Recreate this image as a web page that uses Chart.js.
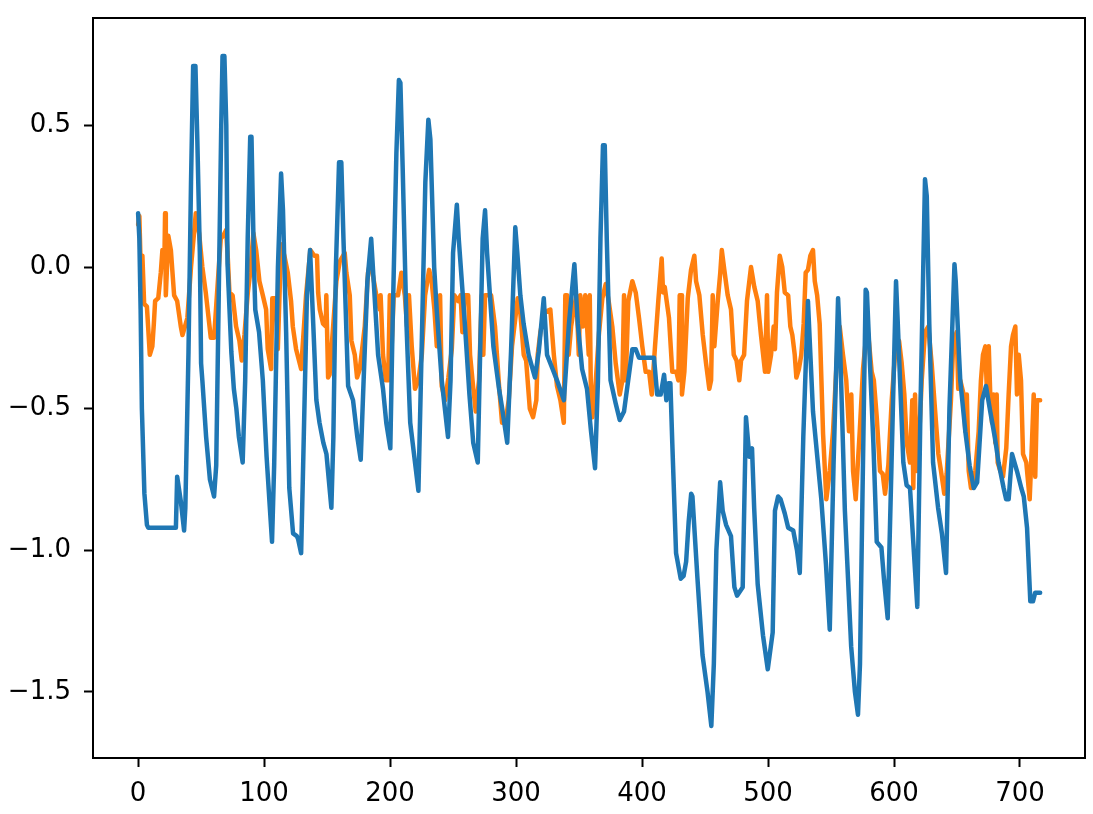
<!DOCTYPE html>
<html lang="en">
<head>
    <meta charset="UTF-8">
    <title>Line chart</title>
    <script src="https://cdn.jsdelivr.net/npm/chart.js"></script>
    <style>
        html, body { margin: 0; padding: 0; background: #fff; }
        canvas { display: block; }
    </style>
</head>
<body>
    <canvas id="lineChart" width="1093" height="814"></canvas>
    <script>
        // tengely beosztások
        const xTicks = [0, 100, 200, 300, 400, 500, 600, 700];
        const yTicks = [-1.5, -1.0, -0.5, 0.0, 0.5];

        // kék sor (csúcsok és völgyek)
        const blueX = [0, 1, 2, 3, 5, 7, 8, 30, 31, 34, 36.5, 37.5, 40, 42, 43.7, 45.5, 47, 49, 50, 51, 54, 57, 60.3, 62, 64, 66, 67, 68.5, 70,
            71, 74, 76, 78, 80, 83, 85, 87, 89, 90, 92, 93, 96, 99, 102, 106.3, 108, 111, 113.5, 115, 117.5, 120, 123, 126, 127, 129.4, 131, 134, 136.5,
            139, 141.5, 144, 147, 149.5, 153.4, 155, 157, 159.5, 161.3, 163, 166.7, 170.6, 174, 176.7, 179, 182, 185, 187, 190.5, 194.4, 197, 200.2,
            202, 205, 207, 208.2, 210, 213, 216, 222.5, 225, 228, 230.4, 232, 235, 237, 241, 246, 248, 250, 253, 254.5, 259.5, 263, 266, 269.6,
            272, 273.5, 275.4, 277, 282, 286.5, 289, 293, 296, 299.4, 301, 303.4, 306, 310, 315, 318, 322, 324.6, 329, 332.5, 338, 342, 346.3,
            349, 352.4, 356.3, 359.5, 362.7, 365, 367, 369, 370.4, 372, 375, 379, 382.3, 385.7, 389, 392.3, 395, 397.6, 409.5, 412, 414.8, 417.5,
            419.3, 421, 422.5, 424, 427, 430.7, 433, 435, 437, 439, 440, 444, 448, 452, 455, 457, 459, 462, 464, 466.7, 470.6, 473.3, 475.4, 479.9,
            482.5, 485.2, 487.3, 489, 491.8, 496, 499.8, 503.7, 505.5, 508, 510, 513.3, 516, 520, 523, 525.2, 528, 531.7, 533, 535.7, 542.3, 546,
            549, 552, 555.6, 557, 561, 566, 569, 571.4, 573, 575, 577.5, 578.5, 581, 583.6, 586.3, 590, 592, 595, 598, 601.6, 603, 607.4, 610,
            612.7, 615, 618.5, 621, 624.6, 626, 628, 631, 635, 638, 641.3, 644, 648, 649, 651.6, 652.6, 656.6, 660, 663.3, 666, 670, 673, 676.4,
            680, 683, 687, 689, 691, 693.7, 697.6, 701, 703, 705.6, 708.2, 710.3, 712, 716];
        const blueY = [0.19, 0.10, -0.15, -0.50, -0.80, -0.91, -0.92, -0.92, -0.74, -0.83, -0.93, -0.85, -0.30, 0.30, 0.71, 0.71, 0.45, 0.05, -0.34, -0.40, -0.60, -0.75, -0.81, -0.70, -0.10, 0.50, 0.745, 0.745, 0.50,
            0.01, -0.30, -0.43, -0.50, -0.60, -0.69, -0.40, 0.10, 0.46, 0.46, 0.0, -0.15, -0.23, -0.40, -0.67, -0.97, -0.70, 0.0, 0.33, 0.20, -0.23, -0.78, -0.94, -0.95, -0.96, -1.01, -0.70, -0.10, 0.06,
            -0.20, -0.47, -0.55, -0.62, -0.66, -0.85, -0.60, 0.0, 0.37, 0.37, 0.10, -0.42, -0.47, -0.60, -0.68, -0.40, -0.05, 0.10, -0.05, -0.31, -0.43, -0.55, -0.64,
            -0.20, 0.40, 0.66, 0.65, 0.35, -0.20, -0.55, -0.79, -0.30, 0.30, 0.52, 0.45, 0.0, -0.15, -0.40, -0.60, -0.40, 0.05, 0.22, 0.10, -0.21, -0.45, -0.62, -0.69,
            -0.20, 0.10, 0.20, 0.05, -0.28, -0.43, -0.50, -0.62, -0.30, 0.14, 0.05, -0.10, -0.20, -0.31, -0.39, -0.30, -0.11, -0.31, -0.36, -0.40, -0.47, -0.20, 0.01,
            -0.20, -0.36, -0.43, -0.58, -0.71, -0.40, 0.10, 0.43, 0.43, 0.10, -0.40, -0.48, -0.54, -0.51, -0.40, -0.29, -0.29, -0.32, -0.32, -0.45, -0.45, -0.38,
            -0.47, -0.41, -0.41, -0.62, -1.01, -1.10, -1.09, -1.04, -0.90, -0.80, -0.81, -1.10, -1.37, -1.50, -1.62, -1.40, -1.00, -0.76, -0.86, -0.91, -0.95, -1.13, -1.16, -1.13,
            -0.53, -0.67, -0.64, -0.85, -1.12, -1.30, -1.42, -1.29, -0.86, -0.81, -0.82, -0.87, -0.92, -0.93, -1.00, -1.08, -0.60, -0.12, -0.25, -0.51, -0.82, -1.05,
            -1.28, -0.70, -0.11, -0.25, -0.86, -1.34, -1.50, -1.58, -1.40, -0.80, -0.08, -0.09, -0.35, -0.62, -0.97, -0.99, -1.10, -1.24, -0.70, -0.05, -0.20, -0.69, -0.77,
            -0.78, -0.95, -1.20, -0.50, 0.31, 0.25, -0.20, -0.69, -0.85, -0.94, -1.08, -0.50, 0.01, -0.05, -0.31, -0.40, -0.58, -0.70, -0.78, -0.76, -0.47, -0.42, -0.51,
            -0.60, -0.69, -0.78, -0.82, -0.82, -0.66, -0.72, -0.78, -0.81, -0.92, -1.18, -1.18, -1.15, -1.15];

        // narancs sor
        const orangeX = [0, 1, 2, 3.4, 4.8, 7, 9.3, 11.3, 12.5, 13.5, 16, 18, 19.3, 21, 21.4, 22, 24, 26, 28.6, 31, 33.9, 35.2, 39.1, 42, 45.8, 48.4, 51, 53.7, 57.7, 60.3, 62.1, 65.6, 67.5,
            69.8, 71, 72.5, 75, 77.8, 80.4, 82.3, 84.4, 87.1, 89, 91.5, 93.7, 96.3, 99, 101.6, 102.9, 105.6, 106.5, 109, 110.9, 113.5, 116.1, 118.8, 121.4, 122.8, 125.4, 129.4, 133.3, 136.7, 139.9,
            142, 142.9, 144.2, 146.8, 149, 149.4, 150.8, 152, 154.8, 157.4, 160.1, 164, 165.3, 168, 169.3, 172, 173.8, 176, 179.9, 182.5, 184.4, 186, 189.1, 191.8, 192.5, 194.4, 196.6, 198.5,
            199.8, 201, 202.9, 206.3, 209, 211.7, 213.5, 215, 217.2, 219.8, 222.5, 225.2, 227.8, 231, 233, 235.2, 237.1, 239, 239.7, 241, 243.7, 246.3, 249, 251, 254, 256, 257.4, 259, 262,
            263.5, 266.1, 268, 270.6, 272.8, 274, 275.4, 280.2, 283.3, 286.5, 288.9, 291.5, 294.2, 296.8, 301.3, 303, 306.1, 308, 310.9, 313.5, 316.1, 317.2, 319.3, 322.5, 327.2, 330,
            332.5, 335.2, 337.9, 339.1, 340.5, 341.8, 343.7, 345.8, 347.9, 349.8, 351, 353, 354.9, 357.7, 358.5, 359.5, 360.6, 363.3, 365.9, 368.5, 371.2, 373.5, 376.4, 379.1, 382.3,
            384.4, 385.7, 387.1, 389.1, 392.3, 395, 397.6, 400.2, 402.9, 405.6, 407.7, 410.3, 412.9, 415.6, 416.7, 418, 421.4, 424, 427.2, 428.8, 429.9, 431, 431.7, 433.6, 436.3, 438.9,
            441.5, 442.9, 445.5, 448.2, 450.8, 453.4, 454.8, 456.1, 457.4, 460.1, 462.1, 463.3, 465.3, 468, 470.6, 472.8, 475, 477.2, 478.6, 481, 483.3, 486.5, 489.1, 491.8, 494.4,
            497.6, 499.2, 500.2, 502.4, 504.5, 505.5, 507.1, 509.3, 511.3, 513.3, 516, 517.7, 519.3, 521.2, 522.5, 524.5, 526.4, 528.3, 529.9, 531.7, 533.6, 535.7, 537.1, 539, 541,
            543.7, 546.3, 549, 551.6, 555.6, 556.9, 559.5, 562.1, 564.3, 566.1, 567.5, 569.6, 572.8, 575.4, 578.6, 579.6, 582.3, 584, 586.3, 588.9, 591, 592.9, 595.5, 598.2, 601.6,
            604, 606.1, 608.2, 610.1, 612.7, 614.5, 615.3, 616.7, 618, 619.8, 622, 624.6, 627.2, 629.9, 632.5, 635.2, 637.3, 639.9, 641.8, 645.2, 647.1, 649.8, 651, 652.6, 655.3,
            656.6, 657.8, 659.3, 661.1, 663, 664.5, 667.2, 669, 670.6, 672.5, 673.8, 675.2, 676.4, 677.8, 679, 680.4, 681.5, 682.3, 684.4, 686.5, 689.1, 691, 692.9, 694.4, 696.3,
            697.6, 699, 700.8, 702.4, 705, 707.7, 709.5, 710.9, 712.1, 713.5, 716];
        const orangeY = [0.15, 0.18, 0.01, 0.04, -0.13, -0.14, -0.31, -0.28, -0.20, -0.12, -0.11, -0.02, 0.06, 0.06, 0.19, -0.10, 0.11, 0.06, -0.10, -0.12, -0.21, -0.24, -0.18, 0.0, 0.19, 0.12, 0.0, -0.09, -0.25, -0.25, -0.13, 0.10, 0.11,
            0.13, 0.05, -0.09, -0.10, -0.21, -0.26, -0.33, -0.24, -0.09, -0.02, 0.12, 0.06, -0.05, -0.10, -0.15, -0.29, -0.36, -0.11, -0.11, -0.29, 0.08, 0.04, -0.02, -0.12, -0.21, -0.29, -0.36, -0.10, 0.06, 0.04,
            0.04, -0.09, -0.15, -0.20, -0.21, -0.10, -0.39, -0.38, -0.21, -0.05, 0.02, 0.05, -0.02, -0.10, -0.26, -0.31, -0.39, -0.36, -0.21, -0.02, 0.02, -0.02, -0.10, -0.15, -0.10, -0.31, -0.40, -0.40,
            -0.10, -0.31, -0.10, -0.10, -0.02, -0.10, -0.21, -0.10, -0.28, -0.43, -0.40, -0.31, -0.10, -0.01, -0.05, -0.15, -0.28, -0.28, -0.10, -0.42, -0.47, -0.39, -0.29, -0.10, -0.12, -0.10, -0.23, -0.10, -0.10,
            -0.31, -0.43, -0.51, -0.40, -0.10, -0.31, -0.10, -0.10, -0.21, -0.42, -0.55, -0.55, -0.47, -0.28, -0.11, -0.14, -0.31, -0.33, -0.50, -0.53, -0.47, -0.31, -0.23, -0.16, -0.15, -0.31,
            -0.42, -0.47, -0.55, -0.10, -0.10, -0.31, -0.21, -0.15, -0.10, -0.31, -0.10, -0.21, -0.10, -0.31, -0.10, -0.48, -0.53, -0.40, -0.23, -0.11, -0.06, -0.12, -0.21, -0.34, -0.45,
            -0.40, -0.10, -0.40, -0.12, -0.05, -0.09, -0.18, -0.28, -0.37, -0.37, -0.45, -0.28, -0.12, 0.03, -0.09, -0.07, -0.18, -0.37, -0.37, -0.40, -0.10, -0.10, -0.45, -0.37, -0.11, -0.01,
            0.04, -0.05, -0.10, -0.24, -0.34, -0.43, -0.40, -0.10, -0.28, -0.12, -0.02, 0.06, -0.01, -0.10, -0.15, -0.31, -0.33, -0.40, -0.33, -0.31, -0.12, 0.0, -0.07, -0.12, -0.24,
            -0.37, -0.10, -0.37, -0.31, -0.21, -0.29, -0.09, 0.04, 0.0, -0.09, -0.10, -0.21, -0.24, -0.31, -0.39, -0.36, -0.31, -0.20, -0.02, -0.01, 0.04, 0.06, -0.05, -0.10, -0.20,
            -0.59, -0.82, -0.72, -0.58, -0.24, -0.21, -0.31, -0.40, -0.58, -0.45, -0.72, -0.82, -0.58, -0.36, -0.21, -0.24, -0.37, -0.40, -0.53, -0.72, -0.73, -0.80, -0.70, -0.47, -0.26,
            -0.26, -0.34, -0.45, -0.62, -0.69, -0.47, -0.78, -0.45, -0.72, -0.62, -0.40, -0.23, -0.21, -0.34, -0.50, -0.66, -0.72, -0.80, -0.73, -0.47, -0.26, -0.23, -0.43, -0.40, -0.45,
            -0.58, -0.45, -0.72, -0.78, -0.76, -0.72, -0.58, -0.40, -0.31, -0.28, -0.45, -0.28, -0.45, -0.55, -0.45, -0.62, -0.45, -0.69, -0.72, -0.74, -0.64, -0.45, -0.28, -0.24, -0.21,
            -0.45, -0.31, -0.40, -0.66, -0.69, -0.82, -0.62, -0.45, -0.74, -0.47, -0.47];

        function toPoints(xs, ys) {
            return xs.map((x, i) => ({ x: x, y: ys[i] }));
        }

        // keret a rajzterület körül (matplotlib stílus)
        const frame = {
            id: 'frame',
            afterDraw(chart) {
                const a = chart.chartArea, c = chart.ctx;
                c.save();
                c.strokeStyle = '#000';
                c.lineWidth = 2;
                c.strokeRect(a.left, a.top, a.right - a.left, a.bottom - a.top);
                c.restore();
            }
        };

        const font = { family: 'DejaVu Sans', size: 26 };

        new Chart(document.getElementById('lineChart'), {
            type: 'line',
            data: {
                datasets: [{
                    data: toPoints(blueX, blueY),
                    borderColor: '#1f77b4',
                    borderWidth: 4.5,
                    borderJoinStyle: 'round',
                    borderCapStyle: 'round',
                    pointRadius: 0,
                    tension: 0
                }, {
                    data: toPoints(orangeX, orangeY),
                    borderColor: '#ff7f0e',
                    borderWidth: 4.5,
                    borderJoinStyle: 'round',
                    borderCapStyle: 'round',
                    pointRadius: 0,
                    tension: 0
                }]
            },
            options: {
                responsive: false,
                animation: false,
                layout: { padding: { top: 18, right: 8, left: 0, bottom: 0 } },
                plugins: { legend: { display: false }, tooltip: { enabled: false } },
                scales: {
                    x: {
                        type: 'linear',
                        min: -35.8,
                        max: 751.6,
                        afterBuildTicks: s => { s.ticks = xTicks.map(v => ({ value: v })); },
                        afterFit: s => { s.height = 56; s.paddingLeft = 0; s.paddingRight = 0; },
                        grid: { drawOnChartArea: false, tickLength: 9, tickWidth: 2, tickColor: '#000' },
                        border: { color: '#000', width: 2 },
                        ticks: { color: '#000', font: font, padding: 12, maxRotation: 0, callback: v => String(v) }
                    },
                    y: {
                        min: -1.733,
                        max: 0.879,
                        afterBuildTicks: s => { s.ticks = yTicks.map(v => ({ value: v })); },
                        afterFit: s => { s.width = 93; s.paddingTop = 0; s.paddingBottom = 0; },
                        grid: { drawOnChartArea: false, tickLength: 9, tickWidth: 2, tickColor: '#000' },
                        border: { color: '#000', width: 2 },
                        ticks: { color: '#000', font: font, padding: 13, callback: v => v.toFixed(1).replace('-', '\u2212') }
                    }
                }
            },
            plugins: [frame]
        });
    </script>
</body>
</html>
